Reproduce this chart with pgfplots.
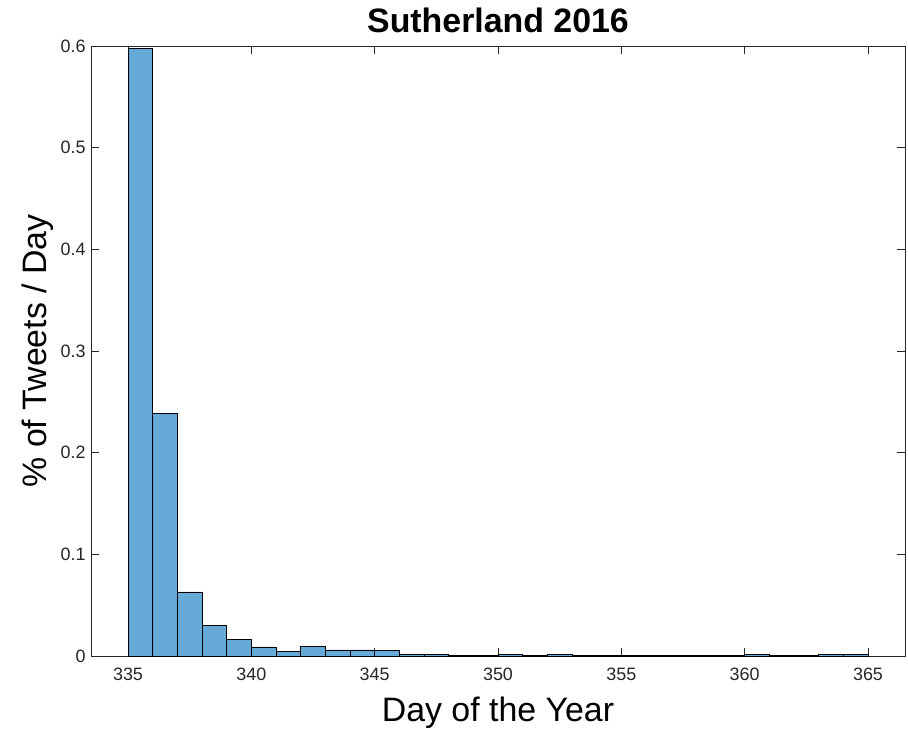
\documentclass[border=0pt]{standalone}
\usepackage{pgfplots}
\pgfplotsset{compat=1.18}
\usepackage{fontspec}
\setmainfont{Liberation Sans}
\definecolor{barfill}{RGB}{102,170,215}
\definecolor{axgray}{RGB}{38,38,38}
\begin{document}
\begin{tikzpicture}[x=1bp,y=1bp]
\path[use as bounding box] (-91bp,-73bp) rectangle (817bp,656bp);
\begin{axis}[
  at={(0,0)}, anchor=south west,
  scale only axis,
  width=814bp, height=610bp,
  xmin=333.5, xmax=366.5,
  ymin=0, ymax=0.6,
  xtick={335,340,...,365},
  ytick={0,0.1,...,0.6},
  yticklabels={0,0.1,0.2,0.3,0.4,0.5,0.6},
  tick pos=both,
  tick align=inside,
  major tick length=8bp,
  axis line style={axgray, line width=0.6bp},
  tick style={axgray, line width=0.6bp},
  /pgf/number format/assume math mode=true,
  ticklabel style={font=\fontsize{18}{20}\selectfont, text=axgray},
  xticklabel style={yshift=-8bp},
  yticklabel style={xshift=-2bp},
  xlabel={Day of the Year},
  ylabel={\% of Tweets / Day},
  label style={font=\fontsize{34}{38}\selectfont},
  xlabel style={yshift=-10bp},
  ylabel style={yshift=0bp},
  title={\bfseries Sutherland 2016},
  title style={font=\fontsize{34}{38}\selectfont, yshift=4bp},
]
\addplot[ybar interval, fill=barfill, draw=black, line width=0.6bp] table {
x y
335 0.598
336 0.239
337 0.063
338 0.030
339 0.0165
340 0.009
341 0.0043
342 0.0092
343 0.006
344 0.006
345 0.0053
346 0.002
347 0.0017
348 0.0005
349 0.0005
350 0.0016
351 0.0007
352 0.0016
353 0.0005
354 0.0005
355 0.0005
356 0.0005
357 0.0005
358 0.0005
359 0.0005
360 0.0016
361 0.0007
362 0.0007
363 0.0016
364 0.0016
365 0
};
\end{axis}
\end{tikzpicture}
\end{document}
